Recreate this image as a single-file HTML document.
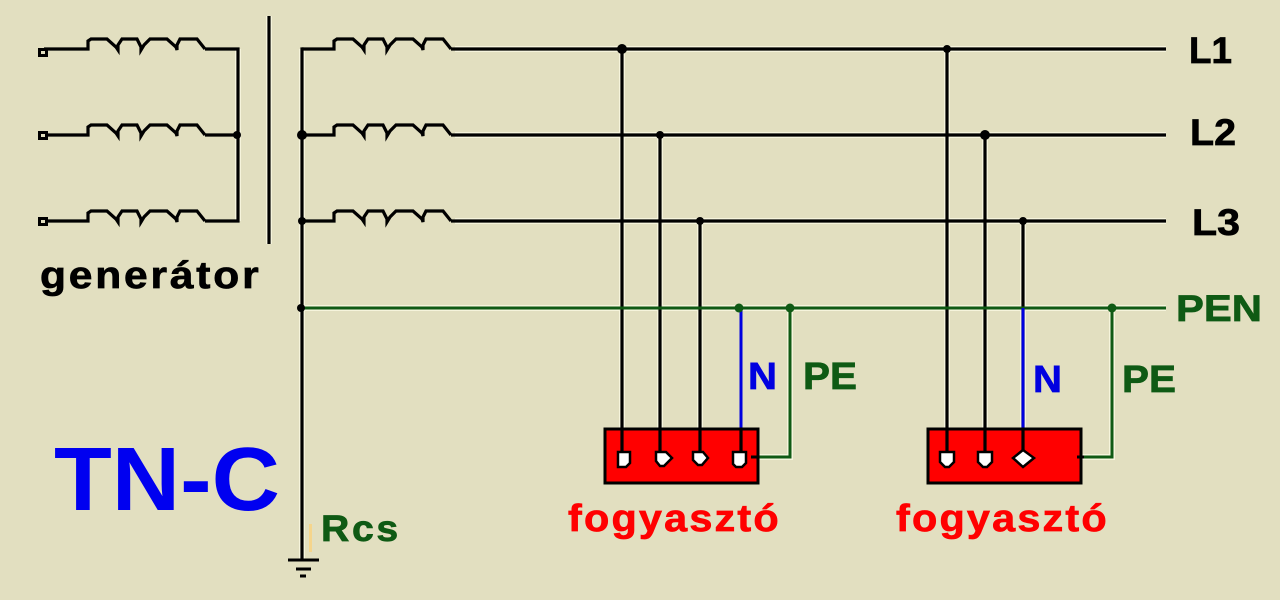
<!DOCTYPE html>
<html><head><meta charset="utf-8"><style>
html,body{margin:0;padding:0;background:#E2DFC0}
svg{display:block}
text{font-family:"Liberation Sans",sans-serif;font-weight:bold;stroke-width:.7}
.k{fill:none;stroke:#000;stroke-width:3.2}
.g{fill:none;stroke:#0F5A14;stroke-width:3}
.h{fill:none;stroke:#F6F4DC;stroke-width:6}
</style></head><body>
<svg width="1280" height="600" viewBox="0 0 1280 600" xmlns="http://www.w3.org/2000/svg">
<defs>
<path id="coil" d="M0 0H44V-8L47 -10H63L72 -2L74 1V-4L78 -10H93L97 -2V1L100 -4L106 -10H123L132 -2L133 1V-4L136 -10H153L161 0"/>
<path id="coilr" d="M12 0H44V-8L47 -10H63L72 -2L74 1V-4L78 -10H93L97 -2V1L100 -4L106 -10H123L132 -2L133 1V-4L136 -10H153L161 0"/>
</defs>
<rect width="1280" height="600" fill="#E2DFC0"/>

<!-- halo -->
<g class="h">
<path d="M269 16V244M238 49V221M302 49V560M622 49V456M660 135V456M700 221V456M947 49V456M985 135V456M1023 221V456M455 49H1166M455 135H1166M455 221H1166M302 308H1166M790 308V457H756M1112 308V457H1082"/>
</g>

<!-- coils -->
<g class="k">
<use href="#coil" x="44" y="49"/>
<use href="#coil" x="44" y="135"/>
<use href="#coil" x="44" y="221"/>
<path d="M205 49H238V221H205M205 135H238"/>
<path d="M269 16V244"/>
<use href="#coilr" x="290" y="49"/>
<use href="#coilr" x="290" y="135"/>
<use href="#coilr" x="290" y="221"/>
<path d="M302 47.400V560"/>
<path d="M451 49H1166M451 135H1166M451 221H1166"/>
<path d="M622 49V456M660 135V456M700 221V456M947 49V456M985 135V456M1023 221V456"/>
</g>
<g fill="#E2DFC0" stroke="#000" stroke-width="3">
<rect x="39.500" y="49.500" width="7" height="6"/>
<rect x="39.500" y="132.500" width="7" height="6"/>
<rect x="39.500" y="218.500" width="7" height="6"/>
</g>

<!-- PEN / PE -->
<path class="g" d="M302 308H1166M790 308V457H756M1112 308V457H1082"/>
<path d="M741 308V430M1023 308V430" fill="none" stroke="#0000E0" stroke-width="3"/>

<!-- dots -->
<g fill="#000">
<circle cx="237" cy="135" r="4"/>
<circle cx="302" cy="135" r="5"/>
<circle cx="302" cy="221" r="4"/>
<circle cx="301" cy="308" r="4"/>
<circle cx="622" cy="49" r="5"/>
<circle cx="660" cy="135" r="4"/>
<circle cx="700" cy="221" r="4"/>
<circle cx="947" cy="49" r="4"/>
<circle cx="985" cy="135" r="5"/>
<circle cx="1023" cy="221" r="4"/>
</g>
<g fill="#0F5A14">
<circle cx="739" cy="308" r="4.500"/>
<circle cx="790" cy="308" r="4.500"/>
<circle cx="1112" cy="308" r="4.500"/>
</g>

<!-- consumers -->
<rect x="605" y="429" width="153" height="54" fill="#FF0000" stroke="#000" stroke-width="3"/>
<rect x="928" y="429" width="153" height="54" fill="#FF0000" stroke="#000" stroke-width="3"/>
<g class="k">
<path d="M622 429V456M660 429V456M700 429V456M741 429V456M947 429V456M985 429V456M1023 429V456"/>
</g>
<g fill="#fff" stroke="#000" stroke-width="2.500">
<path d="M618 452H630V463L626 467H618Z"/>
<path d="M656 452H666L672 458L664 466H660L656 461Z"/>
<path d="M693 452H703L708 458L702 465H698L693 460Z"/>
<path d="M733 452H746V463L742 467H736L733 464Z"/>
<path d="M940 452H954V462L949 467H945L940 462Z"/>
<path d="M978 452H992V462L987 467H983L978 462Z"/>
<path d="M1023 450L1034 458L1023 467L1013 458Z"/>
</g>
<path d="M751 457H758M1077 457H1084" stroke="#000" stroke-width="3"/>

<!-- ground -->
<g stroke="#000" fill="none">
<path d="M288 560H319" stroke-width="3"/>
<path d="M296 569H311" stroke-width="3"/>
<path d="M300 576H306" stroke-width="3"/>
</g>
<rect x="309" y="524" width="3" height="28" fill="#F5D58C"/>

<!-- labels -->
<text x="1189" y="63" font-size="37" fill="#000" stroke="#000" textLength="43" lengthAdjust="spacingAndGlyphs">L1</text>
<text x="1190" y="145" font-size="37" fill="#000" stroke="#000" textLength="46" lengthAdjust="spacingAndGlyphs">L2</text>
<text x="1192" y="235" font-size="37" fill="#000" stroke="#000" textLength="48" lengthAdjust="spacingAndGlyphs">L3</text>
<text x="1176" y="321" font-size="37" fill="#0F5A14" stroke="#0F5A14" textLength="86" lengthAdjust="spacingAndGlyphs">PEN</text>
<text x="748" y="389" font-size="38" fill="#0000E0" stroke="#0000E0" textLength="29" lengthAdjust="spacingAndGlyphs">N</text>
<text x="1033" y="392" font-size="38" fill="#0000E0" stroke="#0000E0" textLength="29" lengthAdjust="spacingAndGlyphs">N</text>
<text x="803" y="389" font-size="38" fill="#0F5A14" stroke="#0F5A14" textLength="54" lengthAdjust="spacingAndGlyphs">PE</text>
<text x="1122" y="392" font-size="38" fill="#0F5A14" stroke="#0F5A14" textLength="54" lengthAdjust="spacingAndGlyphs">PE</text>
<text transform="translate(40,288) scale(1.12,1)" font-size="38" letter-spacing="2.5" fill="#000" stroke="#000">generátor</text>
<text transform="translate(321,541) scale(1.06,1)" font-size="37" letter-spacing="2.5" fill="#0F5A14" stroke="#0F5A14">Rcs</text>
<text transform="translate(568,531) scale(1.09,1)" font-size="38" letter-spacing="2" fill="#FF0000" stroke="#FF0000">fogyasztó</text>
<text transform="translate(896,531) scale(1.09,1)" font-size="38" letter-spacing="2" fill="#FF0000" stroke="#FF0000">fogyasztó</text>
<text x="54" y="510" font-size="90" fill="#0000F0" textLength="226" lengthAdjust="spacingAndGlyphs">TN-C</text>
</svg>
</body></html>
